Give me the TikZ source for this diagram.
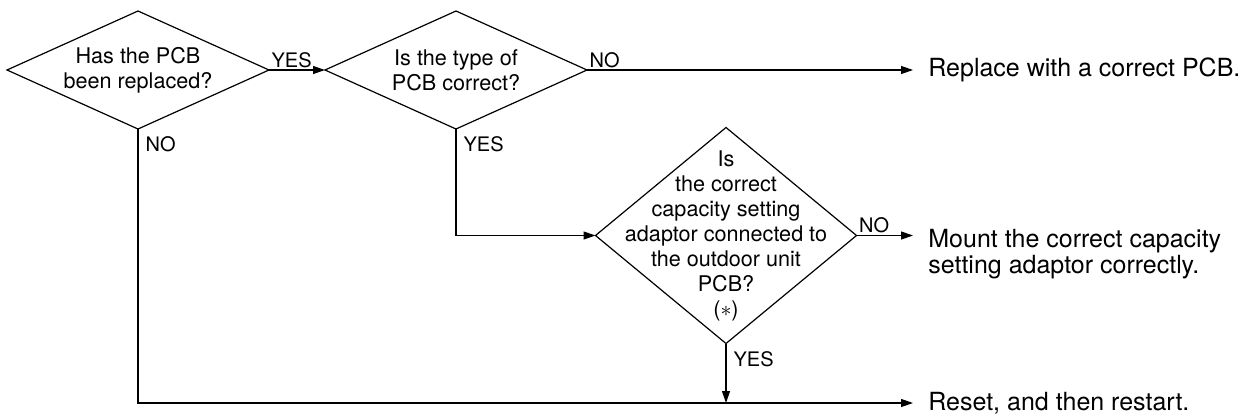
\documentclass[tikz,border=0pt]{standalone}
\usepackage{fontspec}
\setmainfont{TeX Gyre Heros}
\usetikzlibrary{shapes.geometric, arrows.meta, positioning}

\begin{document}
\begin{tikzpicture}[
  x=0.5pt, y=-0.5pt,
  decision/.style={diamond, draw, line width=0.6pt, inner sep=0pt, outer sep=0pt},
  qtext/.style={align=center, font=\fontsize{10.8}{12.5}\selectfont},
  result/.style={anchor=west, align=left, inner xsep=7.5pt, font=\fontsize{12.5}{13}\selectfont},
  arrow/.style={-{Triangle[length=6pt, width=4pt]}, line width=0.6pt},
  tag/.style={font=\fontsize{10}{12}\selectfont, inner sep=1pt},
  tagdown/.style={tag, below right, inner sep=3.5pt},
]
  \useasboundingbox (0,0) rectangle (1251,417);

  \node[decision, minimum width=131pt, minimum height=59pt, label={[qtext]center:Has the PCB\\been replaced?}] (replaced) at (138,70) {};
  \node[decision, minimum width=131pt, minimum height=59pt, label={[qtext]center:Is the type of\\PCB correct?}] (pcbtype) at (456,70) {};
  \node[decision, minimum width=130.5pt, minimum height=108pt, label={[qtext]center:Is\\the correct\\capacity setting\\adaptor connected to\\the outdoor unit\\PCB?\\($*$)}] (adaptor) at (726,235.5) {};

  \node[result] (replace) at (913,70) {Replace with a correct PCB.};
  \node[result, anchor=base west] (mount) at (913,273) {Mount the correct capacity\\setting adaptor correctly.};
  \node[result] (reset) at (913,403) {Reset, and then restart.};

  \draw[arrow] (replaced.east) -- node[tag, above right, pos=0] {YES} (pcbtype.west);
  \draw[arrow] (pcbtype.east) -- node[tag, above right, pos=0] {NO} (replace);
  \draw[arrow] (replaced.south) |- node[tagdown, pos=0] {NO} (reset);
  \draw[arrow] (pcbtype.south) |- node[tagdown, pos=0] {YES} (adaptor.west);
  \draw[arrow] (adaptor.east) -- node[tag, above right, pos=0] {NO} (adaptor.east -| mount.west);
  \draw[arrow] (adaptor.south) -- node[tagdown, pos=0] {YES} (adaptor.south |- reset.west);
\end{tikzpicture}
\end{document}
